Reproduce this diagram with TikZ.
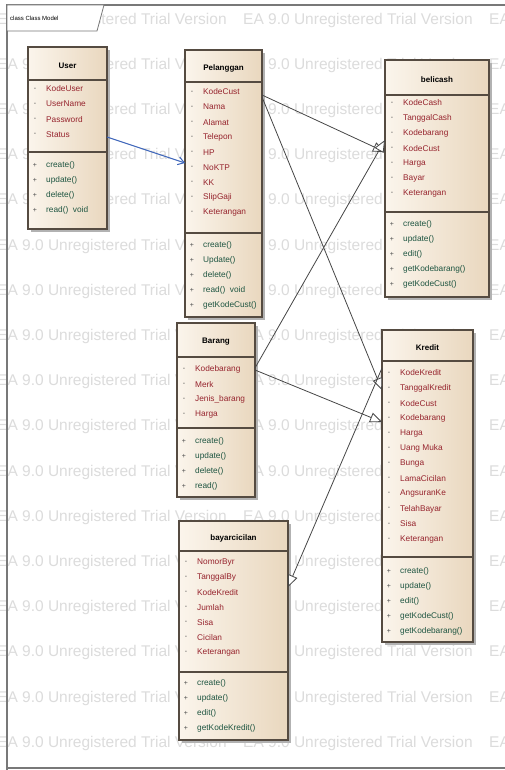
\documentclass[tikz,border=0pt]{standalone}
\usepackage{fontspec}
\setmainfont{Liberation Sans}
\usetikzlibrary{arrows.meta,calc}
\definecolor{attrc}{RGB}{150,35,45}
\definecolor{methc}{RGB}{30,85,65}
\definecolor{boxl}{RGB}{251,245,236}
\definecolor{boxr}{RGB}{233,215,190}
\definecolor{edgec}{RGB}{85,75,65}
\definecolor{wm}{RGB}{220,220,220}
\definecolor{conn}{RGB}{70,70,70}
\definecolor{blueconn}{RGB}{60,100,185}
\definecolor{framec}{RGB}{120,120,120}
\tikzset{
  classbox/.style={draw=edgec, line width=1.3pt, left color=boxl, right color=boxr, anchor=north west, inner sep=0pt, outer sep=0pt},
  divline/.style={draw=edgec, line width=1.3pt},
  clstitle/.style={font=\bfseries\fontsize{8}{10}\selectfont, inner sep=0pt},
  attrtxt/.style={font=\fontsize{8.3}{10}\selectfont, text=attrc, anchor=west, inner sep=0pt},
  methtxt/.style={font=\fontsize{8.3}{10}\selectfont, text=methc, anchor=west, inner sep=0pt},
  bul/.style={font=\fontsize{7}{8}\selectfont, text=black!70, inner sep=0pt},
  gen/.style={draw=conn, line width=0.8pt, -{Triangle[open,fill=white,length=12pt,width=10pt]}},
  assoc/.style={draw=blueconn, line width=1pt, -{Straight Barb[length=6pt,width=8pt]}},
  wmark/.style={text=wm, font=\fontsize{15.5}{17}\selectfont, anchor=west, inner sep=0pt},
  framel/.style={draw=framec, line width=1.2pt},
}
% #1 name, #2 x, #3 top y, #4 width, #5 height, #6 title, #7 divider 1 y, #8 divider 2 y
\newcommand\umlcls[8]{%
  \fill[black!30] (#2+3,#3+3) rectangle (#2+#4+3,#3+#5+3);
  \node[classbox, minimum width=#4pt, minimum height=#5pt] (#1) at (#2,#3) {};
  \draw[divline] (#2,#7) -- (#2+#4,#7);
  \draw[divline] (#2,#8) -- (#2+#4,#8);
  \node[clstitle] (#1-t) at ({#2+#4/2},{(#3+#7)/2+2}) {#6};
}
% #1 name prefix, #2 x, #3 first y, #4 style, #5 bullet, #6 list
\newcommand\umlitems[6]{%
  \foreach \t [count=\i from 0] in {#6} {
    \node[bul] (#1-b\i) at (#2+7,#3+15.1*\i) {#5};
    \node[#4] (#1-\i) at (#2+18,#3+15.1*\i) {\t};
  }
}
\begin{document}
\begin{tikzpicture}[x=1pt,y=-1pt]
\useasboundingbox (0,0) rectangle (505,770);
\fill[white] (0,0) rectangle (505,770);
% watermark
\foreach \r in {0,...,16} {
  \foreach \c in {0,1,2} {
    \node[wmark] (wm-\r-\c) at (-3+246*\c, 20+45.2*\r) {EA 9.0 Unregistered Trial Version};
  }
}
% frame
\draw[framel] (7,780) -- (7,5) -- (520,5);
\draw[framel] (7,768) -- (520,768);
\filldraw[draw=framec, fill=white, line width=0.8pt] (7,5) -- (104,5) -- (97,31) -- (7,31) -- cycle;
\node[font=\fontsize{6}{7}\selectfont, anchor=west, inner sep=0pt] (tab) at (10,18) {class Class Model};

% classes
\umlcls{user}{28}{47}{79}{182}{User}{80}{152}
\umlitems{ua}{28}{89}{attrtxt}{-}{KodeUser,UserName,Password,Status}
\umlitems{um}{28}{165}{methtxt}{+}{create(),update(),delete(),read()\ \ void}

\umlcls{pel}{185}{50}{77}{267}{Pelanggan}{82}{233}
\umlitems{pa}{185}{92}{attrtxt}{-}{KodeCust,Nama,Alamat,Telepon,HP,NoKTP,KK,SlipGaji,Keterangan}
\umlitems{pm}{185}{245}{methtxt}{+}{create(),Update(),delete(),read()\ \ void,getKodeCust()}

\umlcls{beli}{385}{60}{104}{237}{belicash}{95}{212}
\umlitems{ba}{385}{103}{attrtxt}{-}{KodeCash,TanggalCash,Kodebarang,KodeCust,Harga,Bayar,Keterangan}
\umlitems{bm}{385}{224}{methtxt}{+}{create(),update(),edit(),getKodebarang(),getKodeCust()}

\umlcls{bar}{177}{323}{78}{174}{Barang}{357}{428}
\umlitems{ra}{177}{369}{attrtxt}{-}{Kodebarang,Merk,Jenis\_barang,Harga}
\umlitems{rm}{177}{441}{methtxt}{+}{create(),update(),delete(),read()}

\umlcls{kre}{382}{330}{91}{312}{Kredit}{361}{557}
\umlitems{ka}{382}{373}{attrtxt}{-}{KodeKredit,TanggalKredit,KodeCust,Kodebarang,Harga,Uang Muka,Bunga,LamaCicilan,AngsuranKe,TelahBayar,Sisa,Keterangan}
\umlitems{km}{382}{571}{methtxt}{+}{create(),update(),edit(),getKodeCust(),getKodebarang()}

\umlcls{bay}{179}{521}{109}{219}{bayarcicilan}{551}{672}
\umlitems{ya}{179}{562}{attrtxt}{-}{NomorByr,TanggalBy,KodeKredit,Jumlah,Sisa,Cicilan,Keterangan}
\umlitems{ym}{179}{683}{methtxt}{+}{create(),update(),edit(),getKodeKredit()}

% connectors
\draw[assoc] ($(user.north east)+(0,90)$) -- ($(pel.north west)+(0,113)$);
\draw[gen] ($(pel.north east)+(0,45)$) -- ($(beli.north west)+(0,92)$);
\draw[gen] ($(pel.north east)+(0,47)$) -- ($(kre.north west)+(0,60)$);
\draw[gen] ($(bar.north east)+(0,45)$) -- ($(beli.north west)+(0,80)$);
\draw[gen] ($(bar.north east)+(0,47)$) -- ($(kre.north west)+(0,92)$);
\draw[gen] ($(kre.north west)+(0,38)$) -- ($(bay.north east)+(0,66)$);
\end{tikzpicture}
\end{document}
